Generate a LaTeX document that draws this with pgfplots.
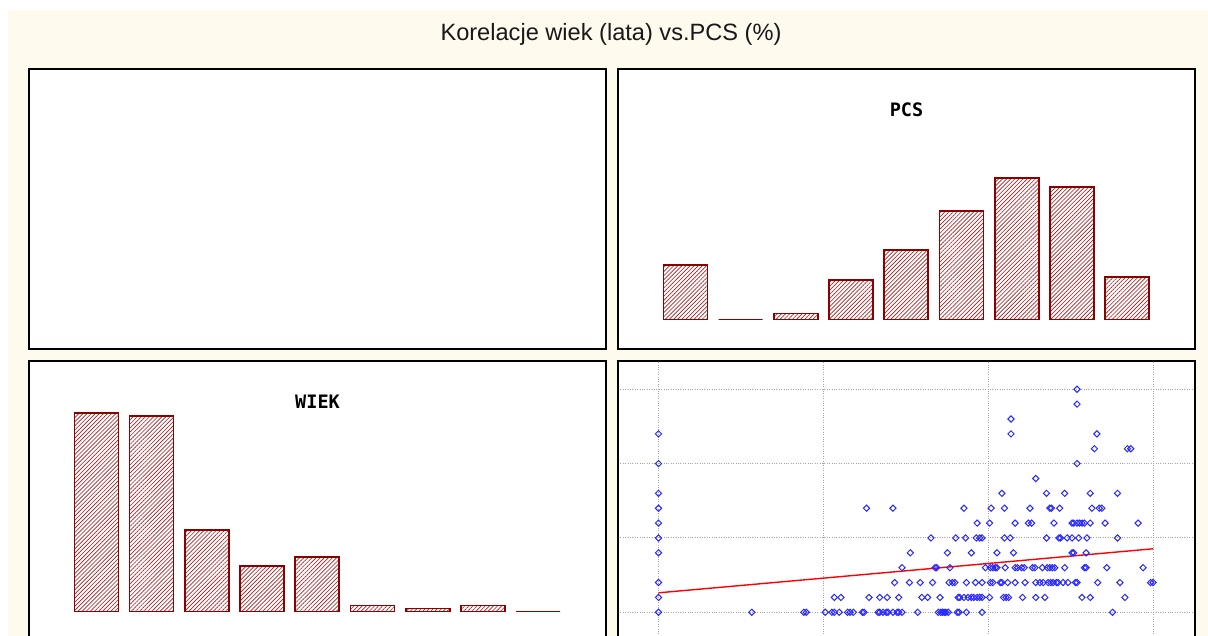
\documentclass[border=0pt]{standalone}
\usepackage{pgfplots}
\pgfplotsset{compat=1.18}
\usepackage{fontspec}
\usetikzlibrary{patterns.meta}
\setmainfont{Liberation Sans}
\newfontfamily\panelfont{DejaVu Sans Mono}
\definecolor{cream}{RGB}{255,250,238}
\definecolor{barred}{RGB}{140,0,0}
\definecolor{hatchred}{RGB}{165,30,30}
\definecolor{ptblue}{RGB}{40,40,255}
\pgfplotsset{
  panel/.style={
    scale only axis, width=577pt, height=280pt, anchor=south west,
    axis line style={black, line width=1.4pt},
    axis background/.style={fill=white},
    xticklabels={}, yticklabels={}, major tick length=0pt,
    clip=true,
  },
  hist/.style={
    panel, xmin=-0.22, xmax=10.23, ymin=-9.8, ymax=83.2,
    xtick=\empty, ytick=\empty,
    title style={at={(0.5,1)}, anchor=center, yshift=-47pt,
      font=\panelfont\bfseries\fontsize{18.5}{20}\selectfont},
  },
  histbar/.style={ybar, bar width=0.797, bar shift=0pt, draw=barred, line width=1.7pt,
    pattern={Lines[angle=45,distance=2.9pt,line width=0.65pt]}, pattern color=hatchred},
}
\pgfplotstableread{
bin count
1 66
2 65
3 27
4 15
5 18
6 2
7 1
8 2
9 0
}\wiek
\pgfplotstableread{
bin count
1 18
2 0
3 2
4 13
5 23
6 36
7 47
8 44
9 14
}\pcs
\begin{document}
\begin{tikzpicture}[x=1pt,y=1pt]
\useasboundingbox (0,0) rectangle (1208,636);
\clip (0,0) rectangle (1208,636);
\fill[white] (0,0) rectangle (1208,636);
\fill[cream] (8,0) rectangle (1208,626);
\node[anchor=base, font=\fontsize{23.6}{27}\selectfont, text=black!90] at (611,595) {Korelacje wiek (lata) vs.PCS (\%)};
% top-left empty panel
\filldraw[fill=white, draw=black, line width=1.4pt] (29,287) rectangle (606,567);
% PCS histogram
\begin{axis}[hist, at={(618pt,287pt)}, title={PCS}]
\addplot[histbar] table[x=bin,y=count] {\pcs};
\end{axis}
% WIEK histogram
\begin{axis}[hist, at={(29pt,-5pt)}, title={WIEK}]
\addplot[histbar] table[x=bin,y=count] {\wiek};
\end{axis}
% scatter
\begin{axis}[panel, at={(618pt,-5pt)},
  xmin=-4.906, xmax=64.99, ymin=-1.93, ymax=16.90,
  xtick={0,20,40,60}, ytick={0,5,10,15},
  grid=major, grid style={dotted, black!35, line width=0.9pt}]
\addplot[only marks, mark=square, mark size=2.2pt,
  mark options={draw=ptblue, line width=1pt, fill=ptblue!15, rotate=45}] table {
x y
0 0
11.3 0
17.6 0
17.9 0
20.2 0
21.0 0
21.3 0
21.9 0
22.9 0
23.2 0
23.6 0
24.7 0
24.9 0
26.6 0
26.8 0
27.2 0
27.6 0
27.8 0
28.4 0
28.9 0
29.1 0
29.5 0
31.4 0
33.9 0
34.2 0
34.4 0
34.6 0
34.8 0
35.1 0
36.2 0
36.4 0
37.3 0
39.2 0
55.0 0
0 1
21.3 1
22.1 1
25.5 1
26.8 1
27.7 1
29.1 1
31.9 1
32.6 1
34.1 1
36.3 1
36.5 1
37.0 1
37.5 1
37.9 1
38.2 1
38.6 1
38.9 1
39.2 1
40.1 1
41.8 1
42.1 1
42.4 1
44.1 1
45.7 1
46.8 1
51.3 1
52.3 1
56.5 1
0 2
28.6 2
30.4 2
31.7 2
33.2 2
35.2 2
35.6 2
35.9 2
37.3 2
38.4 2
39.2 2
40.2 2
40.5 2
41.4 2
41.6 2
42.3 2
43.2 2
44.4 2
45.7 2
46.2 2
46.6 2
47.2 2
47.5 2
47.8 2
48.2 2
48.4 2
49.0 2
49.6 2
50.5 2
50.7 2
53.2 2
55.9 2
59.6 2
59.9 2
29.5 3
33.5 3
33.7 3
35.3 3
39.6 3
40.2 3
40.5 3
40.8 3
41.0 3
42.0 3
43.2 3
43.5 3
44.0 3
44.3 3
45.3 3
45.6 3
46.5 3
47.1 3
47.4 3
47.7 3
48.0 3
49.2 3
51.6 3
51.8 3
54.3 3
58.7 3
0 4
30.5 4
35.0 4
37.9 4
41.0 4
43.0 4
50.1 4
50.3 4
51.8 4
0 5
33.0 5
36.0 5
37.2 5
38.5 5
38.9 5
39.2 5
41.9 5
42.6 5
47.0 5
48.5 5
48.7 5
49.5 5
50.1 5
50.9 5
51.9 5
55.6 5
0 6
38.6 6
40.1 6
43.2 6
44.8 6
45.2 6
47.9 6
50.1 6
50.3 6
50.7 6
51.0 6
51.3 6
51.6 6
52.3 6
54.1 6
58.1 6
0 7
25.2 7
28.4 7
37.0 7
40.3 7
41.9 7
45.0 7
47.4 7
47.6 7
48.6 7
52.5 7
53.4 7
53.7 7
0 8
41.6 8
47.0 8
49.2 8
52.3 8
55.6 8
45.7 9
0 10
50.7 10
52.8 11
56.8 11
57.2 11
0 12
42.7 12
53.1 12
42.7 13
50.7 14
50.7 15
};
\addplot[red, line width=1.4pt] coordinates {(0,1.31) (59.9,4.27)};
\end{axis}
\end{tikzpicture}
\end{document}
